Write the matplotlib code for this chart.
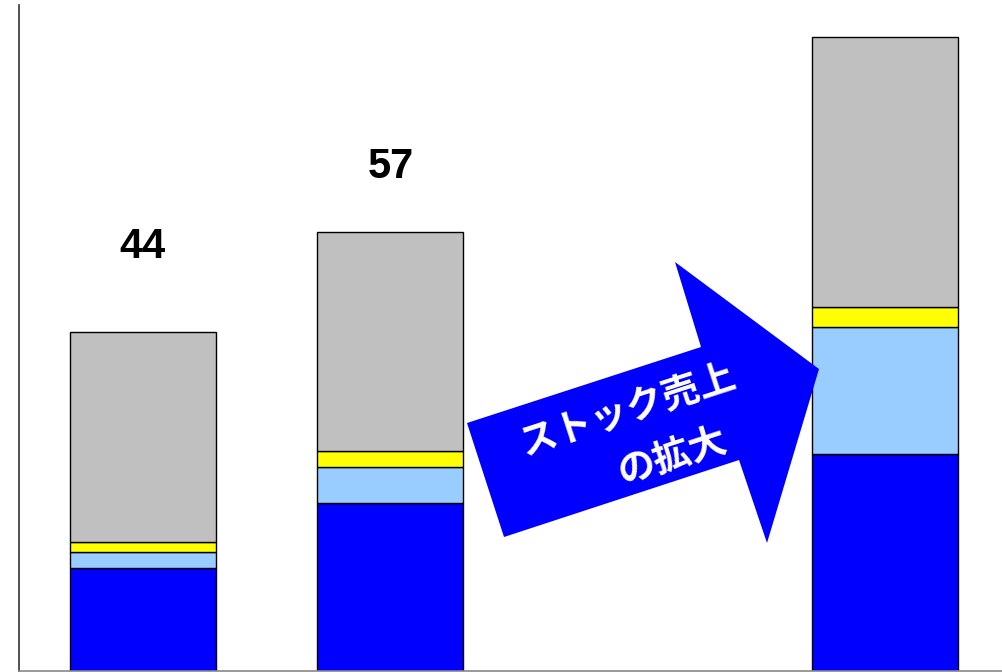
import matplotlib.pyplot as plt
import matplotlib.transforms as mtransforms
from matplotlib.patches import Polygon
import numpy as np

plt.rcParams['font.family'] = ['Liberation Sans', 'Noto Sans CJK JP', 'DejaVu Sans']

# 積み上げ棒の値（下から順）
positions = [0, 1, 3]
blue = [13.4, 21.8, 28.2]
light_blue = [2.1, 4.7, 16.5]
yellow = [1.3, 2.1, 2.6]
gray = [27.2, 28.4, 35.1]
total_labels = ['44', '57']

W, H = 1002, 672
fig = plt.figure(figsize=(W / 100, H / 100), dpi=100)
ax = fig.add_axes([18.5 / W, 1 / H, 1 - 18.5 / W, 666 / H])

layers = [(blue, '#0000FF'), (light_blue, '#99CCFF'),
          (yellow, '#FFFF00'), (gray, '#C0C0C0')]
bottom = np.zeros(len(positions))
for vals, col in layers:
    ax.bar(positions, vals, width=0.59, bottom=bottom, color=col,
           edgecolor='black', linewidth=1.0, zorder=2)
    bottom += np.array(vals)

# 合計ラベル（最初の2本だけ）
label_pad = [11.1, 8.5]
for i, txt in enumerate(total_labels):
    ax.text(positions[i], bottom[i] + label_pad[i], txt, ha='center', va='center',
            fontsize=30, fontweight='bold', color='black')

ax.set_xlim(-0.503, 3.471)
ax.set_ylim(0, 86.5)
ax.set_xticks([])
ax.set_yticks([])
for s in ['top', 'right']:
    ax.spines[s].set_visible(False)
ax.spines['left'].set_color('#333333')
ax.spines['left'].set_linewidth(1.2)
ax.spines['bottom'].set_color('#888888')
ax.spines['bottom'].set_linewidth(1.2)

# ピクセル座標（左上原点）で矢印を描く
px = mtransforms.Affine2D().scale(1 / W, -1 / H).translate(0, 1) + fig.transFigure
arrow_pts = [(467, 423), (701, 347), (675, 262), (819, 369),
             (767, 543), (739, 460), (504, 537)]
fig.patches.append(Polygon(arrow_pts, closed=True, facecolor='#0000FF',
                           edgecolor='none', transform=px, zorder=5))

fig.text(627, 410, 'ストック売上', transform=px, rotation=18, rotation_mode='anchor',
         ha='center', va='center', color='white', fontsize=27, fontweight='bold',
         family=['Noto Sans CJK JP'], zorder=6)
fig.text(673, 457, 'の拡大', transform=px, rotation=18, rotation_mode='anchor',
         ha='center', va='center', color='white', fontsize=27, fontweight='bold',
         family=['Noto Sans CJK JP'], zorder=6)

fig.savefig('out.png', dpi=100)
